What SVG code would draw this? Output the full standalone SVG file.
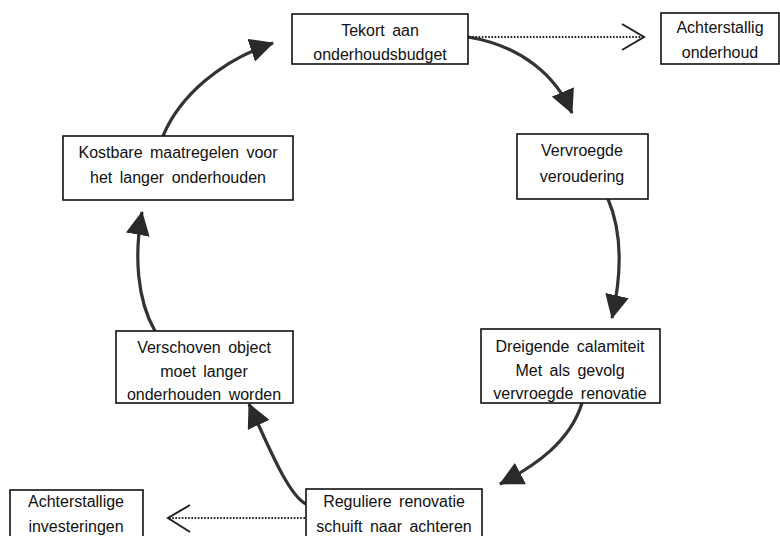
<svg xmlns="http://www.w3.org/2000/svg" width="780" height="536" viewBox="0 0 780 536">
<style>
.box{fill:#fff;stroke:#111;stroke-width:1.6}
.t{font-family:"Liberation Sans",Arial,sans-serif;font-size:16px;fill:#111;text-anchor:middle;word-spacing:3px}
.arc{fill:none;stroke:#333;stroke-width:3.2}
.dot{fill:none;stroke:#222;stroke-width:2;stroke-dasharray:1.6 1.6}
.chev{fill:none;stroke:#222;stroke-width:2}
</style>
<defs>
<marker id="ah" markerUnits="userSpaceOnUse" viewBox="0 0 24 24" refX="23" refY="12" markerWidth="24" markerHeight="24" orient="auto">
<path d="M0,0 L24,12 L0,24 z" fill="#2a2a2a"/>
</marker>
</defs>
<g id="connectors">
<path class="arc" d="M468,37 C522,46 556,76 572,113" marker-end="url(#ah)"/>
<path class="arc" d="M608,199 C624,236 620,282 612,318" marker-end="url(#ah)"/>
<path class="arc" d="M582,403 C570,442 535,466 500,484" marker-end="url(#ah)"/>
<path class="arc" d="M306,504 C288,495 268,445 249,404" marker-end="url(#ah)"/>
<path class="arc" d="M155,331 C137,300 134,255 142,212" marker-end="url(#ah)"/>
<path class="arc" d="M163,136 C180,95 222,60 273,43" marker-end="url(#ah)"/>
<path class="dot" d="M469,37 H643"/>
<path class="chev" d="M622,24 L644,37 L622,50"/>
<path class="dot" d="M305,518 H169"/>
<path class="chev" d="M190,505 L168,518 L190,532"/>
</g>
<g id="n1"><rect class="box" x="292" y="14" width="176" height="50"/><text class="t" x="380" y="36">Tekort aan</text><text class="t" x="380" y="60">onderhoudsbudget</text></g>
<g id="n2"><rect class="box" x="661" y="13" width="118" height="51"/><text class="t" x="720" y="33">Achterstallig</text><text class="t" x="720" y="58">onderhoud</text></g>
<g id="n3"><rect class="box" x="517" y="134" width="131" height="65"/><text class="t" x="582" y="156">Vervroegde</text><text class="t" x="582" y="182">veroudering</text></g>
<g id="n4"><rect class="box" x="481" y="329" width="179" height="74"/><text class="t" x="570" y="352">Dreigende calamiteit</text><text class="t" x="570" y="376">Met als gevolg</text><text class="t" x="570" y="399">vervroegde renovatie</text></g>
<g id="n5"><rect class="box" x="306" y="489" width="176" height="52"/><text class="t" x="394" y="507">Reguliere renovatie</text><text class="t" x="394" y="532">schuift naar achteren</text></g>
<g id="n6"><rect class="box" x="10" y="490" width="133" height="52"/><text class="t" x="76" y="507">Achterstallige</text><text class="t" x="76" y="532">investeringen</text></g>
<g id="n7"><rect class="box" x="116" y="331" width="177" height="72"/><text class="t" x="204" y="353">Verschoven object</text><text class="t" x="204" y="377">moet langer</text><text class="t" x="204" y="400">onderhouden worden</text></g>
<g id="n8"><rect class="box" x="63" y="136" width="230" height="64"/><text class="t" x="178" y="158">Kostbare maatregelen voor</text><text class="t" x="178" y="183">het langer onderhouden</text></g>
</svg>
